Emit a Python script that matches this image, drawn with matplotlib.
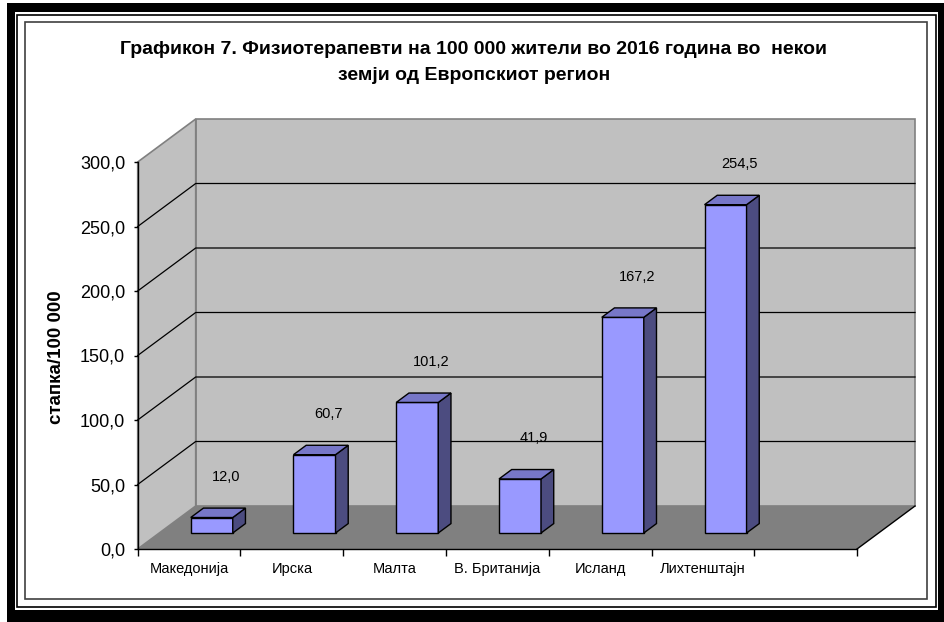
import matplotlib
matplotlib.use("Agg")
import matplotlib.pyplot as plt
from matplotlib.patches import Rectangle
import numpy as np

plt.rcParams['font.family'] = ['Liberation Sans', 'DejaVu Sans']

# data
countries = ["Македонија", "Ирска", "Малта", "В. Британија", "Исланд", "Лихтенштајн"]
values = [12.0, 60.7, 101.2, 41.9, 167.2, 254.5]
yticks = [0, 50, 100, 150, 200, 250, 300]
n_slots = 7  # excel keeps one empty category slot at the end

title1 = "Графикон 7. Физиотерапевти на 100 000 жители во 2016 година во  некои"
title2 = "земји од Европскиот регион"
ylabel = "стапка/100 000"

W, H = 945, 622
fig = plt.figure(figsize=(W / 100, H / 100), dpi=100)


def frame(x0, y0, x1, y1, **kw):
    # rectangle given in pixels from the top-left corner
    fig.patches.append(Rectangle((x0 / W, 1 - y1 / H), (x1 - x0) / W, (y1 - y0) / H,
                                 transform=fig.transFigure, zorder=-5, **kw))


# border with the shadow on bottom / right
frame(7, 3, 945, 622, facecolor='black', edgecolor='none')
frame(15, 12, 938, 610, facecolor='white', edgecolor='none')
frame(17, 15, 936, 607, facecolor='none', edgecolor='black', lw=1.2)
frame(25, 22, 927, 599, facecolor='none', edgecolor='#404040', lw=1.2)

# plot geometry (pixels)
X0, Y0 = 137.7, 549     # front origin
SW = 102.76             # one category slot
VS = 1.29               # one value unit
DXp, DYp = 58, 43       # depth of the box
al, ar, at, ab = 128, 922, 108, 570
ax = fig.add_axes([al / W, 1 - ab / H, (ar - al) / W, (ab - at) / H])
ax.set_xlim((al - X0) / SW, (ar - X0) / SW)
ax.set_ylim((Y0 - ab) / VS, (Y0 - at) / VS)
ax.patch.set_visible(False)
dx, dy = DXp / SW, DYp / VS
top = yticks[-1]


def P(x, v, d):
    return x + d * dx, v + d * dy


def poly(pts, **kw):
    xs, ys = zip(*pts)
    ax.fill(xs, ys, **kw)


# floor and walls
poly([P(0, 0, 0), P(n_slots, 0, 0), P(n_slots, 0, 1), P(0, 0, 1)], color='#808080', lw=0)
poly([P(0, 0, 1), P(n_slots, 0, 1), P(n_slots, top, 1), P(0, top, 1)],
     facecolor='#c0c0c0', edgecolor='#808080', lw=1.2)
poly([P(0, 0, 0), P(0, 0, 1), P(0, top, 1), P(0, top, 0)],
     facecolor='#c0c0c0', edgecolor='#808080', lw=1.2)
ax.plot(*zip(P(n_slots, 0, 0), P(n_slots, 0, 1)), color='black', lw=1)

for t in yticks[1:-1]:
    ax.plot(*zip(P(0, t, 0), P(0, t, 1), P(n_slots, t, 1)), color='black', lw=0.9)

# bars
d0, d1 = 0.372, 0.591
bl, bw = 0.306, 0.409
for i, v in enumerate(values):
    x1, x2 = i + bl, i + bl + bw
    poly([P(x1, 0, d0), P(x2, 0, d0), P(x2, v, d0), P(x1, v, d0)],
         facecolor='#9999ff', edgecolor='black', lw=1, zorder=3)
    poly([P(x2, 0, d0), P(x2, 0, d1), P(x2, v, d1), P(x2, v, d0)],
         facecolor='#4c4c80', edgecolor='black', lw=1, zorder=3)
    poly([P(x1, v, d0), P(x2, v, d0), P(x2, v, d1), P(x1, v, d1)],
         facecolor='#7777c8', edgecolor='black', lw=1, zorder=3)
    cx, _ = P(i + bl + bw / 2, v, d0)
    ax.text(cx + 14 / SW, v + 44, f"{v:.1f}".replace('.', ','),
            ha='center', va='center', fontsize=10.5, zorder=4)

# axes
for s in ['top', 'right']:
    ax.spines[s].set_visible(False)
ax.spines['left'].set_position(('data', 0))
ax.spines['left'].set_bounds(0, top)
ax.spines['bottom'].set_position(('data', 0))
ax.spines['bottom'].set_bounds(0, n_slots)
ax.spines['left'].set_linewidth(1)
ax.spines['bottom'].set_linewidth(1)

ax.set_yticks(yticks)
ax.set_yticklabels([f"{t:.1f}".replace('.', ',') for t in yticks])
ax.tick_params(axis='y', length=3, width=1, pad=6, labelsize=13)

ax.set_xticks(np.arange(len(countries)) + 0.5)
ax.set_xticklabels(countries, va='baseline')
ax.set_xticks(np.arange(n_slots + 1), minor=True)
ax.tick_params(axis='x', which='major', length=0, pad=17.5, labelsize=10.5)
ax.tick_params(axis='x', which='minor', length=5, width=1)

fig.text(474 / W, 1 - 50 / H, title1, ha='center', va='center', fontsize=14, fontweight='bold')
fig.text(474 / W, 1 - 76 / H, title2, ha='center', va='center', fontsize=14, fontweight='bold')
fig.text(57 / W, 1 - 357 / H, ylabel, rotation=90, ha='center', va='center',
         fontsize=13.5, fontweight='bold')

fig.savefig("out.png", dpi=100)
